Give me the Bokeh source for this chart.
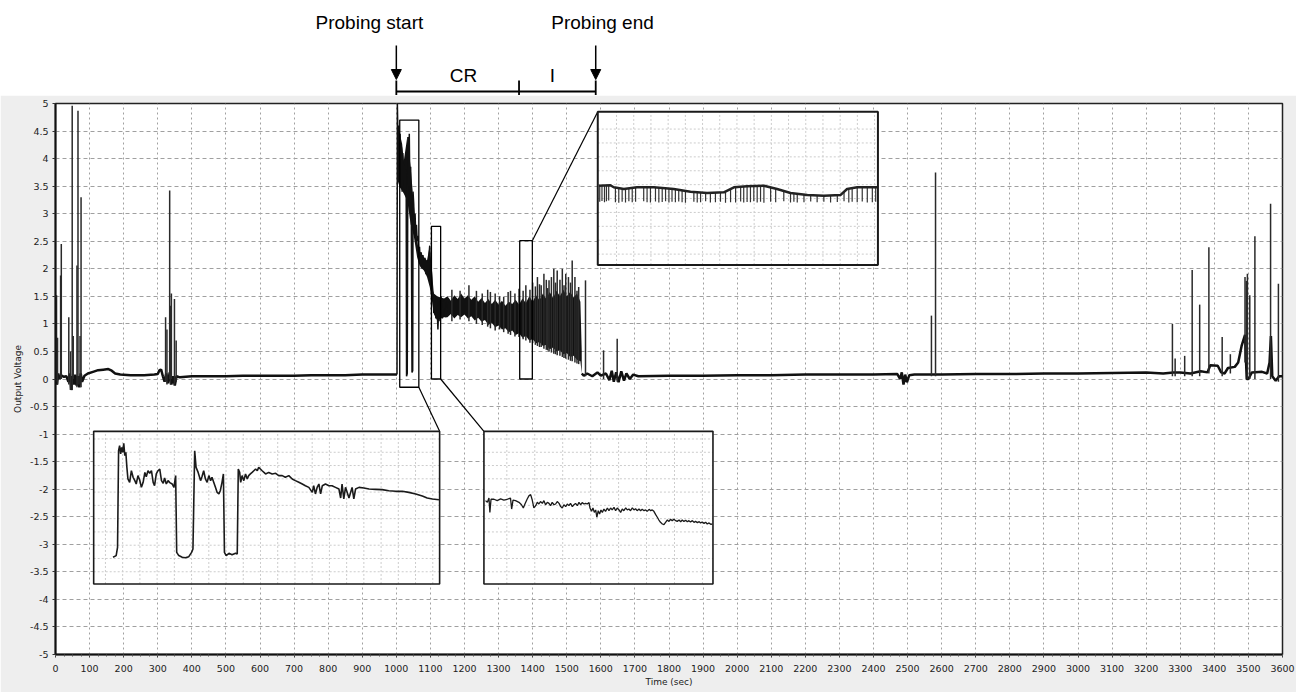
import numpy as np
from bokeh.plotting import figure
from bokeh.models import Range1d, FixedTicker, Arrow, NormalHead
from bokeh.layouts import column
from bokeh.embed import file_html
from bokeh.resources import INLINE
from bokeh.core.properties import value

# ---------------- data ----------------
X_TICKS = list(range(0, 3700, 100))
X_MINOR = list(range(0, 3625, 25))
Y_TICKS = [-5, -4.5, -4, -3.5, -3, -2.5, -2, -1.5, -1, -0.5, 0, 0.5, 1, 1.5, 2, 2.5, 3, 3.5, 4, 4.5, 5]
Y_LABELS = ["-5", "-4.5", "-4", "-3.5", "-3", "-2.5", "-2", "-1.5", "-1", "-0.5", "0",
            "0.5", "1", "1.5", "2", "2.5", "3", "3.5", "4", "4.5", "5"]

# baseline before probing (time s, voltage V)
PRE_T = [0, 4, 8, 12, 18, 25, 32, 38, 42, 46, 50, 55, 58, 62, 66, 70, 74, 78, 85, 95,
         110, 125, 140, 155, 165, 175, 190, 220, 260, 290, 300, 305, 310, 315, 320, 325, 330, 335, 340, 345,
         350, 355, 365, 400, 450, 500, 550, 600, 650, 700, 750, 800, 850, 900, 950, 1002]
PRE_V = [0.05, -0.1, 0.1, 0.0, 0.06, 0.04, 0.05, -0.05, 0.1, -0.2, 0.05, -0.1, 0.08, -0.12, 0.05, -0.15, 0.1, -0.05, 0.06, 0.1,
         0.13, 0.16, 0.17, 0.18, 0.15, 0.1, 0.08, 0.07, 0.07, 0.08, 0.09, 0.16, 0.17, 0.05, -0.05, 0.1, -0.08, 0.12, -0.1, 0.05,
         -0.12, 0.05, 0.03, 0.05, 0.05, 0.05, 0.06, 0.06, 0.06, 0.06, 0.07, 0.07, 0.07, 0.08, 0.08, 0.08]

# start of probing, trace detail
PROBE_T = [1002, 1003, 1005, 1007, 1009, 1011, 1013, 1015, 1017, 1019, 1021, 1023, 1025, 1027, 1029, 1030, 1032, 1034, 1036, 1038,
           1040, 1042, 1044, 1046, 1048, 1049, 1051, 1053, 1055, 1057, 1059, 1061, 1063, 1066, 1068, 1071, 1073, 1076, 1078, 1081,
           1084, 1087, 1090, 1093, 1096, 1098, 1100, 1103, 1105, 1108, 1110, 1113, 1116, 1119, 1122, 1125, 1128, 1131, 1135, 1140,
           1145, 1150]
PROBE_V = [0.08, 5.0, 4.3, 4.6, 3.8, 4.45, 3.5, 4.2, 3.4, 4.1, 3.6, 3.9, 3.4, 3.8, 3.3, 0.05, 0.1, 4.39, 3.5, 4.45,
           3.2, 3.85, 2.9, 0.12, 0.15, 3.4, 3.18, 2.7, 3.0, 2.6, 2.8, 2.5, 2.6, 2.3, 2.4, 2.05, 2.3, 2.0, 2.25, 2.0,
           2.2, 1.9, 2.15, 1.85, 2.25, 2.42, 1.75, 1.95, 1.6, 1.55, 1.2, 1.5, 1.1, 1.45, 0.9, 1.4, 1.05, 1.5, 1.1, 1.45,
           1.12, 1.4]

# dense band during probing: envelope
BAND_T = [1004, 1010, 1017, 1022, 1032, 1042, 1051, 1061, 1066, 1071, 1081, 1090, 1098, 1105, 1110, 1120, 1130, 1140,
          1150, 1160, 1170, 1180, 1190, 1200, 1210, 1220, 1230, 1240, 1250, 1260, 1270, 1280, 1290, 1300, 1310, 1320,
          1330, 1340, 1350, 1360, 1370, 1380, 1390, 1400, 1410, 1420, 1430, 1440, 1450, 1460, 1470, 1480, 1490, 1500,
          1510, 1520, 1530, 1540, 1544]
BAND_HI = [4.6, 4.45, 4.27, 3.96, 4.39, 3.85, 3.18, 2.51, 2.33, 2.30, 2.21, 2.15, 2.42, 1.91, 1.55, 1.5, 1.48, 1.46,
           1.5, 1.42, 1.52, 1.45, 1.55, 1.46, 1.52, 1.44, 1.5, 1.4, 1.47, 1.38, 1.45, 1.36, 1.44, 1.35, 1.42, 1.33,
           1.4, 1.36, 1.44, 1.35, 1.46, 1.38, 1.5, 1.4, 1.52, 1.43, 1.55, 1.45, 1.58, 1.47, 1.6, 1.5, 1.62, 1.5,
           1.58, 1.48, 1.55, 1.4, 0.5]
BAND_LO = [3.6, 3.48, 3.42, 3.36, 3.24, 2.81, 2.6, 2.21, 2.1, 2.03, 1.97, 1.85, 1.67, 1.4, 1.18, 1.06, 1.1, 1.12,
           1.12, 1.18, 1.1, 1.16, 1.12, 1.17, 1.1, 1.14, 1.06, 1.11, 1.04, 1.07, 0.98, 1.02, 0.94, 0.97, 0.9, 0.92,
           0.85, 0.88, 0.8, 0.83, 0.75, 0.78, 0.7, 0.72, 0.65, 0.67, 0.6, 0.62, 0.54, 0.57, 0.5, 0.52, 0.45, 0.47,
           0.4, 0.42, 0.35, 0.32, 0.1]

# baseline after probing
POST_T = [1544, 1550, 1560, 1575, 1590, 1600, 1615, 1625, 1632, 1638, 1645, 1652, 1660, 1668, 1675, 1685, 1695, 1710, 1800, 1900,
          2000, 2100, 2200, 2300, 2400, 2470, 2478, 2483, 2488, 2493, 2498, 2505, 2520, 2600, 2700, 2800, 2900, 3000, 3100, 3200,
          3250, 3280, 3300, 3330, 3360, 3380, 3388, 3410, 3420, 3430, 3440, 3460, 3470, 3480, 3490, 3495, 3500, 3510, 3540, 3555,
          3562, 3566, 3570, 3580, 3590, 3600]
POST_V = [0.1, 0.06, 0.1, 0.05, 0.12, 0.06, 0.1, -0.02, 0.15, -0.05, 0.12, -0.06, 0.14, -0.03, 0.1, 0.0, 0.08, 0.05, 0.06, 0.06,
          0.07, 0.07, 0.08, 0.08, 0.08, 0.09, 0.0, 0.12, -0.1, 0.08, -0.06, 0.07, 0.08, 0.08, 0.09, 0.09, 0.1, 0.1, 0.11, 0.12,
          0.1, 0.12, 0.12, 0.1, 0.14, 0.12, 0.25, 0.24, 0.12, 0.1, 0.2, 0.22, 0.3, 0.6, 0.8, 0.0, 0.0, 0.12, 0.13, 0.1,
          0.3, 0.78, 0.05, -0.03, 0.05, 0.05]

# spikes (time, top, bottom)
SPIKE_PRE_T = [3, 6, 15, 17, 39, 44, 49, 52, 63, 66, 72, 75, 323, 327, 335, 337, 340, 349, 354]
SPIKE_PRE_HI = [1.52, 0.75, 1.88, 2.45, 1.12, 0.5, 4.96, 0.78, 2.06, 4.87, 0.78, 3.30, 1.12, 0.9, 3.42, 1.33, 1.55, 1.45, 0.7]
SPIKE_PRE_LO = [-0.05, -0.1, 0.0, 0.0, -0.1, -0.2, -0.2, 0.0, -0.15, -0.1, -0.1, -0.15, -0.05, -0.1, 0.0, -0.1, 0.0, -0.1, -0.05]

SPIKE_BAND_T = [1163, 1187, 1213, 1235, 1252, 1268, 1276, 1290, 1303, 1315, 1328, 1335, 1348, 1360, 1372, 1380, 1392, 1400,
                1408, 1414, 1420, 1425, 1433, 1440, 1444, 1448, 1455, 1462, 1467, 1472, 1480, 1487, 1492, 1497, 1505,
                1511, 1516, 1524, 1530, 1535]
SPIKE_BAND_HI = [1.62, 1.6, 1.70, 1.6, 1.55, 1.62, 1.58, 1.55, 1.5, 1.49, 1.58, 1.6, 1.55, 1.64, 1.6, 1.7, 1.62, 1.75,
                 1.68, 1.85, 1.72, 1.7, 1.91, 1.8, 1.65, 1.79, 1.85, 2.0, 1.75, 1.97, 1.8, 2.0, 1.7, 1.91, 1.85,
                 1.75, 2.15, 1.85, 1.6, 1.67]
SPIKE_BAND_LO = [1.05, 1.08, 1.05, 1.0, 0.98, 0.95, 0.92, 0.88, 0.9, 0.85, 0.82, 0.8, 0.77, 0.76, 0.72, 0.7, 0.66, 0.65,
                 0.62, 0.6, 0.58, 0.58, 0.55, 0.53, 0.52, 0.5, 0.48, 0.46, 0.45, 0.43, 0.42, 0.4, 0.38, 0.37, 0.35,
                 0.33, 0.32, 0.3, 0.28, 0.27]

SPIKE_POST_T = [1555, 1608, 1648, 2570, 2582, 3277, 3285, 3313, 3335, 3357, 3384, 3423, 3447, 3490, 3494, 3497, 3504, 3519, 3565, 3588]
SPIKE_POST_HI = [1.79, 0.52, 0.73, 1.15, 3.75, 1.0, 0.37, 0.42, 1.98, 1.35, 2.39, 0.76, 0.45, 1.85, 1.78, 1.91, 1.52, 2.59, 3.18, 1.73]
SPIKE_POST_LO = [0.05, 0.0, -0.05, 0.05, 0.05, 0.05, 0.05, 0.05, 0.05, 0.05, 0.1, 0.05, 0.1, 0.3, 0.3, 0.0, 0.0, 0.0, 0.0, -0.05]

# inset traces, in percent of each inset box (x from left, y from bottom)
BL_U = [5.6, 6.5, 6.9, 7.2, 7.5, 7.8, 8.1, 8.4, 8.7, 9.0,
        9.3, 9.6, 9.9, 10.4, 10.9, 11.4, 11.9, 12.3, 12.8, 13.3,
        13.8, 14.3, 14.8, 15.2, 15.7, 16.2, 16.7, 17.2, 17.6, 18.1,
        18.6, 19.1, 19.6, 20.1, 20.5, 21.0, 21.5, 22.0, 22.7, 23.2,
        23.7, 24.0, 24.6, 25.6, 26.5, 27.5, 28.3, 28.7, 29.2, 29.6,
        30.2, 30.9, 31.3, 31.8, 32.3, 32.8, 33.3, 33.8, 34.2, 34.7,
        35.2, 35.7, 36.2, 36.6, 37.1, 37.5, 37.8, 38.3, 39.1, 40.0,
        41.0, 41.5, 41.8, 42.2, 42.5, 42.9, 43.4, 43.9, 44.4, 44.8,
        45.3, 45.8, 46.3, 46.8, 47.3, 47.7, 48.2, 48.7, 49.7, 50.6,
        51.6, 52.6, 53.5, 54.5, 55.4, 56.4, 57.4, 58.3, 59.3, 60.3,
        61.2, 62.2, 63.2, 63.6, 64.1, 64.6, 65.1, 65.6, 66.1, 67.0,
        68.0, 68.9, 69.9, 70.9, 71.4, 71.8, 72.3, 72.8, 73.8, 74.7,
        75.2, 75.7, 76.7, 78.1, 79.6, 81.5, 83.4, 85.3, 87.3, 89.2,
        91.1, 93.1, 95.0, 96.4, 97.9, 99.8]
BL_V = [17.5, 18.6, 24.0, 87.3, 90.6, 85.2, 89.5, 86.2, 92.1, 84.1,
        86.2, 76.4, 68.8, 66.6, 74.2, 69.9, 67.7, 65.5, 71.0, 68.1,
        63.3, 66.6, 73.1, 70.3, 74.2, 72.5, 74.2, 66.6, 64.4, 72.1,
        74.2, 75.3, 67.7, 65.9, 69.4, 65.5, 67.7, 66.4, 65.5, 63.3,
        71.0, 20.7, 18.6, 17.5, 17.2, 17.9, 20.7, 22.9, 87.3, 76.4,
        73.1, 67.7, 70.3, 74.2, 68.8, 66.6, 71.0, 67.7, 69.9, 66.6,
        63.3, 60.0, 59.0, 61.1, 66.6, 72.1, 20.7, 18.6, 20.1, 19.2,
        20.1, 19.7, 75.3, 73.1, 66.6, 71.0, 67.7, 72.1, 68.8, 71.0,
        72.1, 73.1, 74.2, 75.3, 74.2, 76.4, 75.3, 74.2, 72.1, 73.1,
        72.1, 72.5, 71.0, 71.0, 69.9, 71.0, 68.8, 67.7, 66.6, 65.5,
        64.4, 63.3, 60.0, 64.4, 59.0, 63.3, 65.5, 59.0, 64.4, 65.5,
        64.4, 64.4, 63.3, 62.2, 56.3, 65.5, 55.7, 63.3, 56.3, 63.3,
        55.7, 62.2, 63.3, 62.9, 62.2, 62.0, 61.8, 61.1, 60.7, 60.7,
        60.0, 59.0, 57.6, 56.3, 55.7, 55.2]

BM_U = [0.7, 1.5, 2.2, 2.6, 3.1, 4.4, 5.8, 7.3, 8.7, 10.2,
        11.6, 12.1, 12.7, 13.8, 15.3, 16.4, 17.2, 17.9, 18.9, 19.7,
        20.4, 21.1, 21.8, 22.6, 23.3, 24.0, 24.7, 25.5, 26.2, 26.9,
        27.7, 28.4, 29.1, 29.8, 30.6, 31.3, 32.0, 32.8, 33.5, 34.2,
        34.9, 35.7, 36.4, 37.1, 37.8, 38.6, 39.3, 40.0, 40.8, 41.5,
        42.2, 42.9, 43.7, 44.4, 45.1, 45.9, 46.3, 47.0, 47.6, 48.2,
        48.8, 49.3, 49.9, 50.5, 51.1, 51.7, 52.4, 53.1, 53.9, 54.6,
        55.3, 56.0, 56.8, 57.5, 58.2, 59.0, 59.7, 60.4, 61.1, 61.9,
        62.6, 63.3, 64.0, 64.8, 65.5, 66.2, 66.9, 67.7, 68.4, 69.1,
        69.9, 70.6, 71.3, 72.1, 72.8, 73.5, 74.2, 75.0, 75.7, 76.4,
        77.1, 77.9, 78.6, 79.3, 80.1, 80.8, 81.5, 82.2, 83.0, 83.7,
        84.4, 85.2, 85.9, 86.6, 87.3, 88.1, 88.8, 89.5, 90.2, 91.0,
        91.7, 92.4, 93.2, 94.0, 94.6, 95.3, 96.1, 96.8, 97.5, 98.3,
        99.0, 99.7]
BM_V = [54.6, 53.5, 56.3, 46.9, 55.5, 55.5, 54.6, 55.7, 55.0, 55.5,
        56.3, 49.1, 55.0, 54.6, 53.5, 51.9, 49.8, 52.4, 55.7, 57.9,
        58.5, 55.0, 49.8, 51.3, 53.5, 52.4, 54.0, 52.8, 54.6, 51.9,
        53.5, 52.8, 51.3, 53.5, 51.9, 52.4, 54.0, 52.8, 50.7, 49.8,
        51.9, 50.7, 52.4, 51.3, 52.8, 50.7, 51.9, 52.8, 51.3, 53.5,
        51.9, 53.3, 52.4, 52.8, 52.4, 53.3, 49.8, 47.6, 49.8, 46.9,
        48.5, 43.7, 48.0, 45.9, 48.5, 46.9, 49.1, 47.6, 49.8, 48.0,
        49.8, 48.5, 50.2, 48.0, 49.8, 48.5, 46.9, 49.1, 48.0, 49.8,
        48.5, 49.1, 48.0, 49.8, 48.5, 49.3, 48.0, 49.1, 48.0, 48.9,
        48.0, 48.5, 47.6, 48.9, 48.0, 48.5, 47.6, 45.4, 43.7, 41.9,
        40.4, 39.3, 38.9, 40.4, 41.9, 41.0, 42.4, 41.5, 42.4, 41.5,
        41.0, 41.9, 40.8, 41.9, 41.0, 41.7, 40.8, 41.5, 40.6, 41.5,
        40.4, 41.0, 40.2, 40.8, 40.0, 40.6, 39.7, 40.4, 39.3, 40.0,
        39.1, 39.3]

TR_EDGE_U = [0.4, 4.5, 5.7, 9.3, 14.0, 20.0, 27.1, 33.1, 39.0, 45.0, 48.6, 53.3, 59.3, 64.0, 68.8, 74.8, 80.7, 86.7, 89.0, 92.6, 100]
TR_EDGE_V = [51.7, 52.0, 50.7, 49.6, 50.7, 50.7, 49.6, 47.8, 47.0, 47.4, 50.7, 51.3, 51.7, 49.6, 47.0, 45.7, 45.2, 45.7, 49.6, 50.7, 50.7]
TR_TICK_U = [0.7, 1.5, 2.4, 3.1, 3.9, 6.3, 7.5, 8.7, 9.9, 11.1,
             12.3, 13.5, 16.4, 17.6, 18.8, 20.6, 21.8, 23.0, 24.2, 25.4,
             26.5, 27.7, 28.9, 30.1, 31.3, 34.3, 35.5, 36.7, 38.5, 40.2,
             42.0, 43.8, 45.6, 47.4, 49.2, 51.0, 52.1, 53.3, 54.5, 55.7,
             56.9, 58.1, 59.3, 61.7, 63.5, 66.4, 68.8, 70.0, 71.2, 73.6,
             76.0, 78.3, 80.7, 83.1, 85.5, 87.9, 89.6, 90.8, 92.6, 94.4,
             96.2, 98.0, 99.2]
TR_TICK_TOP = [51.7, 51.8, 51.8, 51.9, 52.0, 50.6, 50.2, 49.8, 49.7, 50.0,
               50.3, 50.6, 50.7, 50.7, 50.7, 50.6, 50.4, 50.2, 50.0, 49.8,
               49.7, 49.4, 49.0, 48.6, 48.3, 47.6, 47.4, 47.2, 47.0, 47.1,
               47.2, 47.3, 47.6, 49.5, 50.8, 51.0, 51.2, 51.3, 51.4, 51.5,
               51.6, 51.7, 51.7, 50.8, 49.9, 48.3, 47.0, 46.7, 46.4, 46.0,
               45.6, 45.4, 45.2, 45.3, 45.5, 47.5, 49.6, 50.0, 50.7, 50.7,
               50.7, 50.7, 50.7]
TR_TICK_LOW = [41.2, 41.8, 40.9, 41.5, 42.0, 41.0, 40.6, 41.3, 40.8, 41.5,
               40.9, 41.2, 41.6, 41.0, 40.7, 41.4, 40.8, 41.1, 41.6, 40.7,
               41.2, 40.9, 41.4, 41.0, 40.6, 41.3, 40.8, 41.0, 41.5, 40.7,
               40.9, 41.3, 40.6, 41.0, 40.8, 41.4, 40.7, 41.1, 40.9, 41.5,
               40.8, 41.2, 40.6, 41.3, 41.0, 41.5, 40.8, 41.2, 40.7, 41.0,
               41.4, 40.9, 41.3, 40.8, 41.1, 41.5, 40.7, 41.2, 40.9, 41.4,
               40.8, 41.0, 41.3]

# annotation events (s)
PROBE_START = 1000
CR_END = 1360
PROBE_END = 1585
TOP_LABELS = ["Probing start", "Probing end"]
PHASE_LABELS = ["CR", "I"]

# ---------------- layout / style ----------------
W = 1296
LEFT, RIGHT = 55, 14
TOP_H = 95
MAIN_H = 597
GRAY = "#eeeeee"
X0, X1 = 0, 3600
Y0, Y1 = -5, 5

# zoomed source windows and inset boxes (x0, x1, y0, y1 in main axis units)
SRC = {"BL": (1010, 1066, -0.15, 4.70), "BM": (1103, 1130, 0.0, 2.77), "TR": (1362, 1399, 0.0, 2.51)}
BOX = {"BL": (112, 1127, -3.72, -0.95), "BM": (1257, 1929, -3.72, -0.95), "TR": (1591, 2413, 2.07, 4.85)}
# inset grid: (first x %, step x %, first y % from top, step y %)
IGRID = {"BL": (3.4, 4.98, 5.0, 8.7), "BM": (10.0, 12.2, 5.0, 8.7), "TR": (6.7, 6.14, 11.3, 9.07)}

# ---------------- top annotation strip ----------------
top = figure(width=W, height=TOP_H, output_backend="svg", toolbar_location=None,
             x_range=Range1d(X0, X1), y_range=Range1d(95, 0),
             x_axis_location=None, y_axis_location=None,
             min_border_left=LEFT, min_border_right=RIGHT, min_border_top=0, min_border_bottom=0,
             background_fill_color="white", border_fill_color="white", outline_line_color=None)
top.grid.visible = False
top.text(x=[PROBE_START - 79, PROBE_END + 20], y=[22, 22], text=TOP_LABELS,
         text_font=value("Liberation Sans"), text_font_size="19px", text_align="center",
         text_baseline="middle", text_color="black")
top.text(x=[(PROBE_START + CR_END) / 2 + 17, (CR_END + PROBE_END) / 2 - 15], y=[75, 75], text=PHASE_LABELS,
         text_font=value("Liberation Sans"), text_font_size="19px", text_align="center",
         text_baseline="middle", text_color="black")
for xe in (PROBE_START, PROBE_END):
    top.add_layout(Arrow(end=NormalHead(size=10, fill_color="black", line_color="black"),
                         x_start=xe, y_start=45, x_end=xe, y_end=79, line_width=1.5, line_color="black"))
top.segment(x0=[PROBE_START, PROBE_START, CR_END, PROBE_END], y0=[91, 80, 80, 80],
            x1=[PROBE_END, PROBE_START, CR_END, PROBE_END], y1=[91, 96, 96, 96],
            line_color="black", line_width=1.8)

# ---------------- main chart ----------------
p = figure(width=W, height=MAIN_H, output_backend="svg", toolbar_location=None,
           x_range=Range1d(X0, X1), y_range=Range1d(Y0, Y1),
           min_border_left=LEFT, min_border_right=RIGHT, min_border_top=8, min_border_bottom=38,
           background_fill_color="white", border_fill_color=GRAY,
           outline_line_color="#222222", outline_line_width=1.5)

p.xaxis.ticker = FixedTicker(ticks=X_TICKS, minor_ticks=X_MINOR)
p.yaxis.ticker = FixedTicker(ticks=Y_TICKS)
p.yaxis.major_label_overrides = {float(t): s for t, s in zip(Y_TICKS, Y_LABELS)}
p.xaxis.axis_label = "Time (sec)"
p.yaxis.axis_label = "Output Voltage"
for ax in (p.xaxis[0], p.yaxis[0]):
    ax.axis_line_color = "#111111"
    ax.axis_line_width = 2
    ax.major_tick_line_color = "#333333"
    ax.minor_tick_line_color = "#555555"
    ax.major_tick_in = 0
    ax.major_tick_out = 3
    ax.minor_tick_in = 0
    ax.minor_tick_out = 2
    ax.major_label_text_font = "DejaVu Sans"
    ax.major_label_text_font_size = "9.5px"
    ax.major_label_text_color = "#222222"
    ax.axis_label_text_font = "DejaVu Sans"
    ax.axis_label_text_font_size = "9px"
    ax.axis_label_text_font_style = "normal"
    ax.axis_label_text_color = "#222222"
p.xaxis.major_label_standoff = 7
p.xaxis.axis_label_standoff = 2
p.yaxis.major_label_standoff = 4
p.yaxis.axis_label_standoff = 4

p.xgrid.grid_line_color = "#a0a0a0"
p.xgrid.grid_line_dash = "2 3"
p.ygrid.grid_line_color = "#a0a0a0"
p.ygrid.grid_line_dash = "4 3"

TRACE = "#111111"
p.varea(x=BAND_T, y1=BAND_LO, y2=BAND_HI, fill_color=TRACE)
p.line(PRE_T, PRE_V, line_color=TRACE, line_width=2.5)
p.line(POST_T, POST_V, line_color=TRACE, line_width=2.5)
p.line(PROBE_T, PROBE_V, line_color=TRACE, line_width=1.5)
sp_t = SPIKE_PRE_T + SPIKE_BAND_T + SPIKE_POST_T
sp_hi = SPIKE_PRE_HI + SPIKE_BAND_HI + SPIKE_POST_HI
sp_lo = SPIKE_PRE_LO + SPIKE_BAND_LO + SPIKE_POST_LO
p.segment(x0=sp_t, y0=sp_lo, x1=sp_t, y1=sp_hi, line_color="#2a2a2a", line_width=1.5)

# source windows
for key, (sx0, sx1, sy0, sy1) in SRC.items():
    p.quad(left=[sx0], right=[sx1], bottom=[sy0], top=[sy1], fill_color=None,
           line_color="black", line_width=1.3)

# connectors: source corner -> inset corner
conn = {
    "BL": ((SRC["BL"][1], SRC["BL"][2]), (BOX["BL"][1], BOX["BL"][3])),
    "BM": ((SRC["BM"][1], SRC["BM"][2]), (BOX["BM"][0], BOX["BM"][3])),
    "TR": ((SRC["TR"][1], SRC["TR"][3]), (BOX["TR"][0], BOX["TR"][3])),
}
p.segment(x0=[c[0][0] for c in conn.values()], y0=[c[0][1] for c in conn.values()],
          x1=[c[1][0] for c in conn.values()], y1=[c[1][1] for c in conn.values()],
          line_color="black", line_width=1.2)

# insets: each has its own 0..100 local scale mapped onto its box
for key, (bx0, bx1, by0, by1) in BOX.items():
    sx = 100.0 / (bx1 - bx0)
    sy = 100.0 / (by1 - by0)
    p.extra_x_ranges[key] = Range1d(-(bx0 - X0) * sx, 100 + (X1 - bx1) * sx)
    p.extra_y_ranges[key] = Range1d(-(by0 - Y0) * sy, 100 + (Y1 - by1) * sy)
    p.quad(left=[bx0], right=[bx1], bottom=[by0], top=[by1], fill_color="white", line_color=None)
    gx0, gdx, gy0, gdy = IGRID[key]
    gx = list(np.arange(gx0, 100, gdx))
    gy = list(np.arange(100 - gy0, 0, -gdy))
    p.segment(x0=gx, y0=[0] * len(gx), x1=gx, y1=[100] * len(gx), line_color="#cccccc",
              line_dash="2 2", line_width=1, x_range_name=key, y_range_name=key)
    p.segment(x0=[0] * len(gy), y0=gy, x1=[100] * len(gy), y1=gy, line_color="#cccccc",
              line_dash="2 2", line_width=1, x_range_name=key, y_range_name=key)

p.line(BL_U, BL_V, line_color="#1a1a1a", line_width=1.6, x_range_name="BL", y_range_name="BL")
p.line(BM_U, BM_V, line_color="#1a1a1a", line_width=1.3, x_range_name="BM", y_range_name="BM")
p.segment(x0=TR_TICK_U, y0=TR_TICK_LOW, x1=TR_TICK_U, y1=TR_TICK_TOP, line_color="#333333",
          line_width=1.2, x_range_name="TR", y_range_name="TR")
p.line(TR_EDGE_U, TR_EDGE_V, line_color="#222222", line_width=2.5, x_range_name="TR", y_range_name="TR")

for key, (bx0, bx1, by0, by1) in BOX.items():
    p.quad(left=[bx0], right=[bx1], bottom=[by0], top=[by1], fill_color=None,
           line_color="#1a1a1a", line_width=2 if key == "TR" else 1.6)

layout = column(top, p, spacing=0)
open("out.html", "w").write(file_html(layout, INLINE))
